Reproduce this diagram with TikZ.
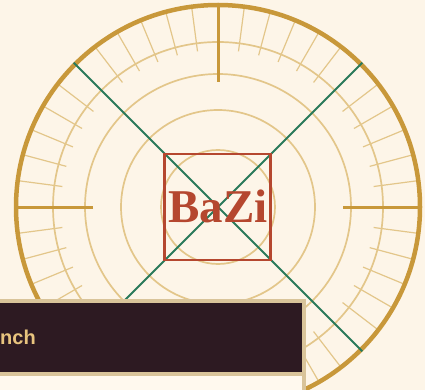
\documentclass[tikz,border=0pt]{standalone}
\usepackage{fontspec}
\usetikzlibrary{calc}
\newfontfamily\serifbold{Liberation Serif}
\newfontfamily\sansbold{Liberation Sans}
\definecolor{bgc}{HTML}{FDF5E8}
\definecolor{gold}{HTML}{C8983A}
\definecolor{lgold}{HTML}{E3C68A}
\definecolor{redc}{HTML}{B5472F}
\definecolor{greenc}{HTML}{2A7A5A}
\definecolor{darkc}{HTML}{2D1A22}
\definecolor{tanc}{HTML}{D9C49A}
\definecolor{bodyc}{HTML}{FFF9EE}
\definecolor{txtc}{HTML}{E8C47E}
\tikzset{
  ring/.style={draw=lgold, line width=1.7pt},
  minortick/.style={draw=lgold, line width=1.2pt},
  majortick/.style={draw=gold, line width=3pt},
  diag/.style={draw=greenc, line width=2pt},
}
\begin{document}
\begin{tikzpicture}[x=1pt,y=-1pt]
\useasboundingbox (0,0) rectangle (425,390);
\clip (0,0) rectangle (425,390);
\fill[bgc] (0,0) rectangle (425,390);
\coordinate (c) at (218,207);
% rings
\foreach \r in {165,133,97,57} \draw[ring] (c) circle[radius=\r pt];
% minor ticks
\foreach \a in {0,7.5,...,352.5} {
  \pgfmathtruncatemacro{\m}{mod(round(\a*10),450)}
  \ifnum\m=0\relax\else
    \draw[minortick] (c) ++(\a:157pt) -- ++(\a:43pt);
  \fi
}
% major ticks
\foreach \a in {0,90,180,270} \draw[majortick] (c) ++(\a:125pt) -- ++(\a:77pt);
% outer circle
\draw[gold, line width=4.5pt] (c) circle[radius=202pt];
% diagonals
\coordinate (d1) at ($(c)+(135:204pt)$);
\coordinate (d2) at ($(c)+(-45:204pt)$);
\coordinate (d3) at ($(c)+(45:204pt)$);
\coordinate (d4) at ($(c)+(-135:204pt)$);
\draw[diag] (d1) -- (d2);
\draw[diag] (d3) -- (d4);
% red square
\node[draw=redc, line width=2.3pt, minimum size=106pt, inner sep=0pt] (sq) at (217.5,207) {};
\node[text=redc, inner sep=0pt] (bazi) at (218,206) {\serifbold\bfseries\fontsize{47}{47}\selectfont BaZi};
% card
\node[draw=tanc, fill=bodyc, line width=4pt, minimum width=330pt, minimum height=130pt, inner sep=0pt, anchor=north east] (card) at (306,299) {};
\fill[darkc] (-10,303) rectangle (302,372);
\draw[tanc, line width=4pt] (-10,374) -- (302,374);
\node[anchor=base east, text=txtc, inner sep=0pt] (lbl) at (36,344) {\sansbold\bfseries\fontsize{20}{20}\selectfont nch};
\end{tikzpicture}
\end{document}
